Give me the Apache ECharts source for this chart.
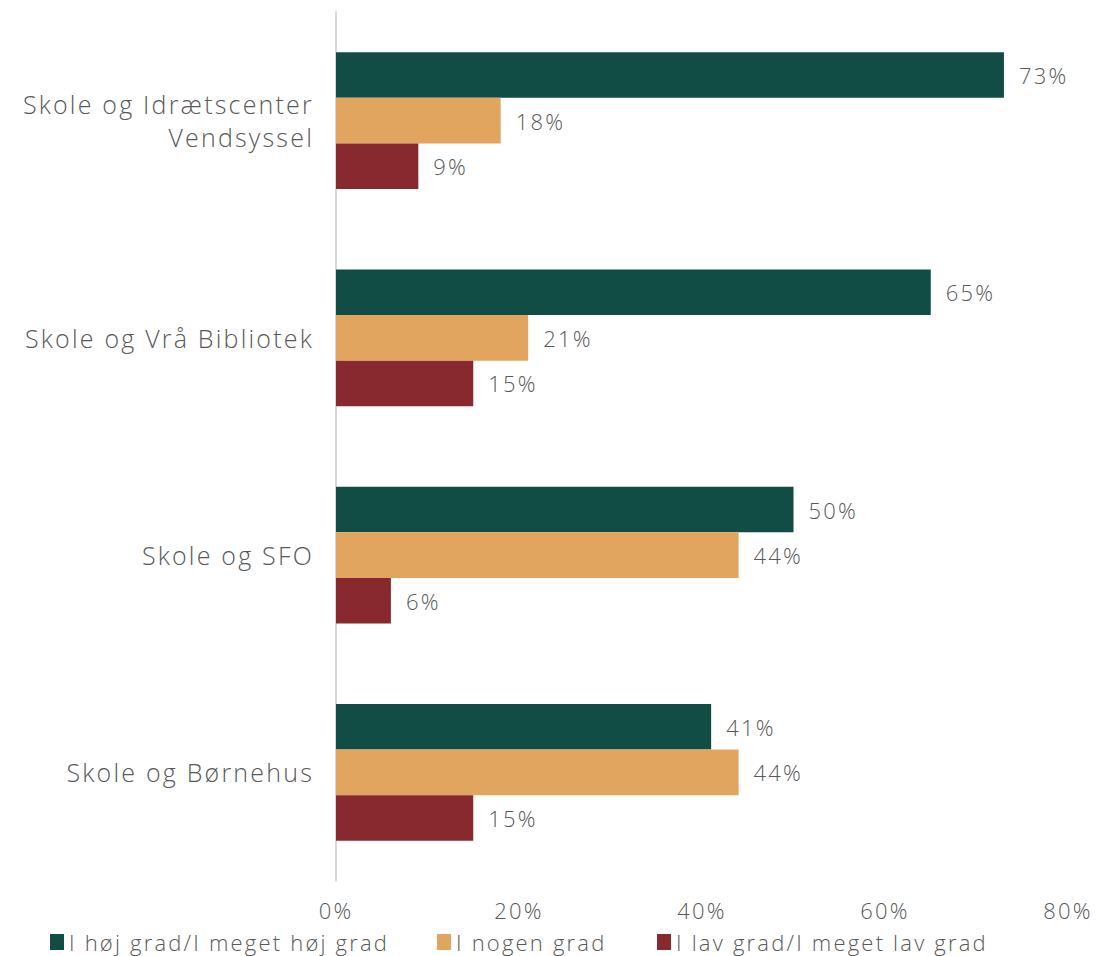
<!DOCTYPE html>
<html><head><meta charset="utf-8">
<script src="https://cdn.jsdelivr.net/npm/echarts@6/dist/echarts.min.js"></script>
<style>html,body{margin:0;padding:0;background:#fff}#c{width:1099px;height:956px}#c svg text{letter-spacing:2.2px}</style>
</head><body><div id="c"></div>
<script>
const categories = ["Skole og Idrætscenter\nVendsyssel", "Skole og Vrå Bibliotek", "Skole og SFO", "Skole og Børnehus"];
const seriesNames = ["I høj grad/I meget høj grad", "I nogen grad", "I lav grad/I meget lav grad"];
const hoejGrad = [73, 65, 50, 41];
const nogenGrad = [18, 21, 44, 44];
const lavGrad = [9, 15, 6, 15];
const xTicks = [0, 20, 40, 60, 80];
const colors = ["#124D45", "#E2A55F", "#87292E"];
const font = "Open Sans";
const fw = 300;
const textColor = '#595959';
const chart = echarts.init(document.getElementById('c'), null, {renderer: 'svg'});
const mk = (name, data, color) => ({
  name, type: 'bar', data, barGap: '0%', barCategoryGap: '37%',
  itemStyle: {color},
  label: {show: true, position: 'right', distance: 15, formatter: p => p.value + '%',
    color: textColor, fontFamily: font, fontWeight: fw, fontSize: 22}
});
const legendLefts = [45, 432, 652];
chart.setOption({
  animation: false,
  textStyle: {fontFamily: font},
  legend: seriesNames.map((n, i) => ({
    data: [n], bottom: -2, left: legendLefts[i], itemWidth: 14, itemHeight: 16,
    icon: 'rect', selectedMode: false,
    textStyle: {color: textColor, fontFamily: font, fontWeight: fw, fontSize: 22}
  })),
  grid: {left: 336, right: 31, top: 12, bottom: 75, containLabel: false},
  xAxis: {
    type: 'value', min: xTicks[0], max: xTicks[xTicks.length - 1], interval: 20,
    axisLine: {show: false}, axisTick: {show: false}, splitLine: {show: false},
    axisLabel: {formatter: v => v + '%', color: textColor, fontFamily: font, fontWeight: fw, fontSize: 22, margin: 18}
  },
  yAxis: {
    type: 'category', data: categories, inverse: true,
    axisLine: {show: true, lineStyle: {color: '#d9d9d9', width: 2}},
    axisTick: {show: false},
    axisLabel: {color: textColor, fontFamily: font, fontWeight: fw, fontSize: 25, margin: 22, lineHeight: 33, align: 'right'}
  },
  series: [mk(seriesNames[0], hoejGrad, colors[0]), mk(seriesNames[1], nogenGrad, colors[1]), mk(seriesNames[2], lavGrad, colors[2])]
});
</script></body></html>
